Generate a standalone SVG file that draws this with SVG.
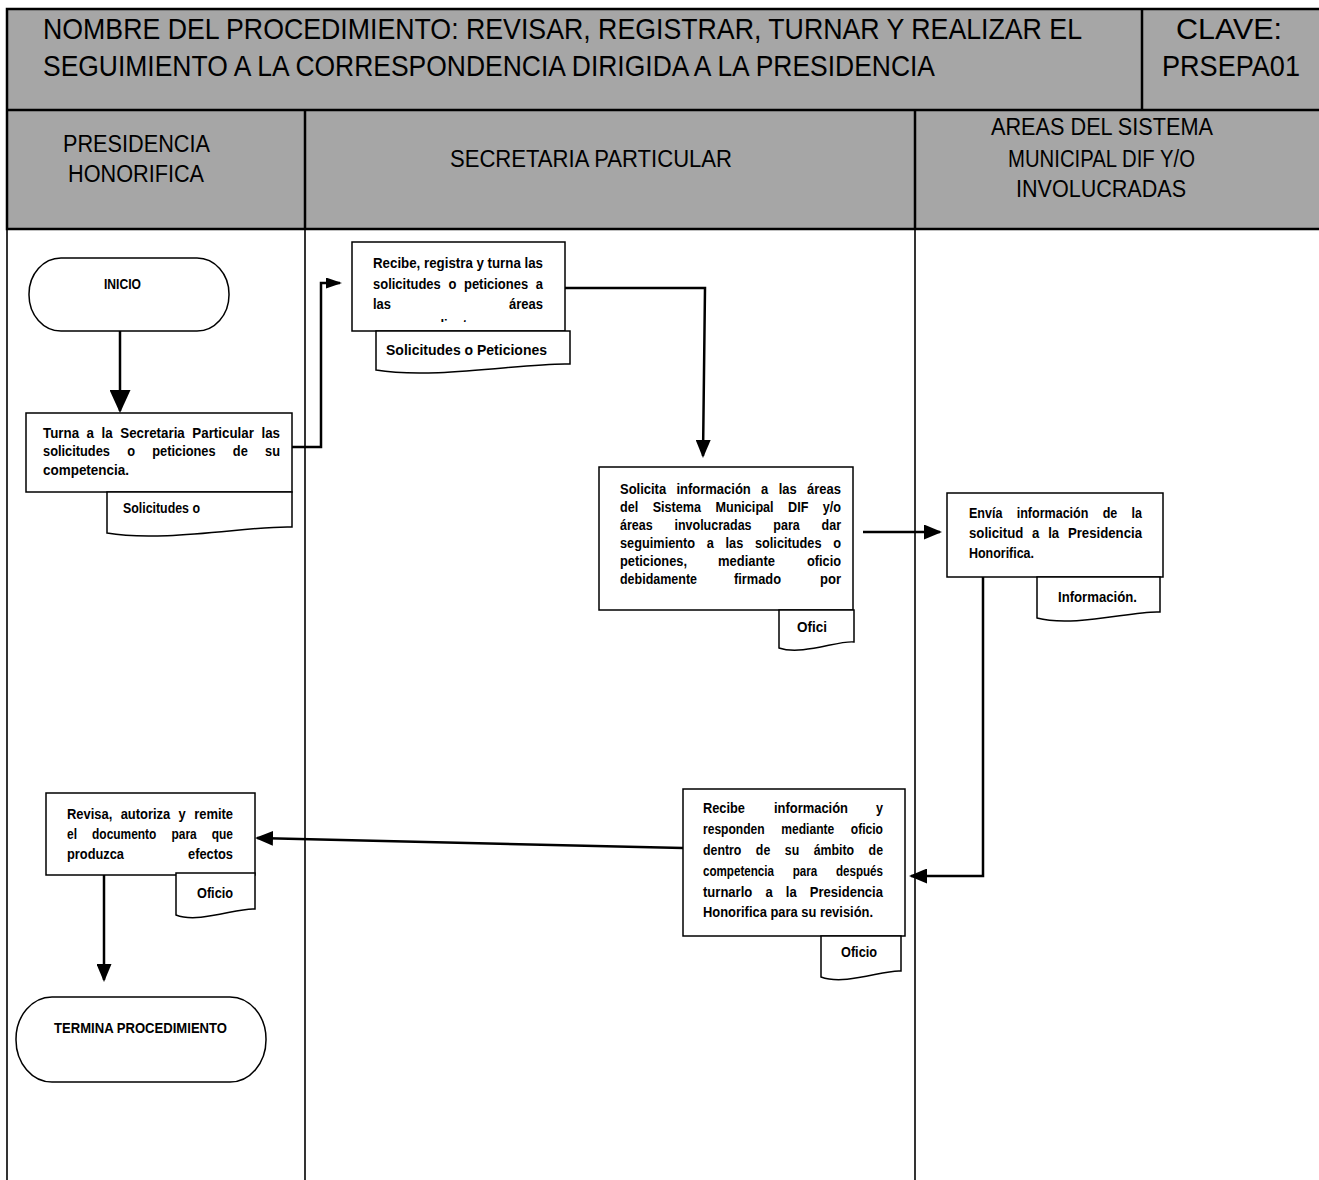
<svg xmlns="http://www.w3.org/2000/svg" width="1319" height="1180" viewBox="0 0 1319 1180">
  <style>
    .hdr { font-family: "Liberation Sans", Arial, sans-serif; fill: #000; }
    .t29 { font-size: 29px; }
    .t23 { font-size: 23px; }
    .b { font-family: "Liberation Sans", Arial, sans-serif; font-weight: bold; font-size: 15px; fill: #000; }
    .box { fill: #fff; stroke: #000; stroke-width: 1.5; }
    .band { fill: #a6a6a6; stroke: #000; stroke-width: 2.5; }
    .grid { stroke: #000; stroke-width: 2.5; fill: none; }
    .lane { stroke: #000; stroke-width: 1.6; fill: none; }
    .conn path { fill: none; stroke: #000; stroke-width: 2.5; }
  </style>
  <defs>
    <marker id="ah" markerUnits="userSpaceOnUse" markerWidth="18" markerHeight="15" viewBox="0 0 18 15" refX="16" refY="7.5" orient="auto">
      <path d="M0,0 L18,7.5 L0,15 Z" fill="#000"/>
    </marker>
    <marker id="ahL" markerUnits="userSpaceOnUse" markerWidth="23" markerHeight="21" viewBox="0 0 23 21" refX="21" refY="10.5" orient="auto">
      <path d="M0,0 L23,10.5 L0,21 Z" fill="#000"/>
    </marker>
    <marker id="ahS" markerUnits="userSpaceOnUse" markerWidth="16" markerHeight="11" viewBox="0 0 16 11" refX="14" refY="5.5" orient="auto">
      <path d="M0,0 L16,5.5 L0,11 Z" fill="#000"/>
    </marker>
    <clipPath id="clipB2">
      <rect x="352" y="242" width="213" height="80"/>
    </clipPath>
  </defs>

  <rect width="1319" height="1180" fill="#fff"/>

  <!-- header table -->
  <g id="header">
    <rect x="7" y="9" width="1325" height="220" class="band"/>
    <line x1="7" y1="110" x2="1330" y2="110" class="grid"/>
    <line x1="1142" y1="9" x2="1142" y2="110" class="grid" stroke-width="2"/>
    <line x1="305" y1="110" x2="305" y2="229" class="grid" stroke-width="2"/>
    <line x1="915" y1="110" x2="915" y2="229" class="grid" stroke-width="2"/>
    <text class="hdr t29" x="43" y="39" textLength="1039" lengthAdjust="spacingAndGlyphs">NOMBRE DEL PROCEDIMIENTO: REVISAR, REGISTRAR, TURNAR Y REALIZAR EL</text>
    <text class="hdr t29" x="43" y="76" textLength="892" lengthAdjust="spacingAndGlyphs">SEGUIMIENTO A LA CORRESPONDENCIA DIRIGIDA A LA PRESIDENCIA</text>
    <text class="hdr t29" x="1176" y="39" textLength="106" lengthAdjust="spacingAndGlyphs">CLAVE:</text>
    <text class="hdr t29" x="1162" y="76" textLength="138" lengthAdjust="spacingAndGlyphs">PRSEPA01</text>
    <text class="hdr t23" x="63" y="152" textLength="147" lengthAdjust="spacingAndGlyphs">PRESIDENCIA</text>
    <text class="hdr t23" x="68" y="182" textLength="136" lengthAdjust="spacingAndGlyphs">HONORIFICA</text>
    <text class="hdr t23" x="450" y="167" textLength="282" lengthAdjust="spacingAndGlyphs">SECRETARIA PARTICULAR</text>
    <text class="hdr t23" x="991" y="135" textLength="222" lengthAdjust="spacingAndGlyphs">AREAS DEL SISTEMA</text>
    <text class="hdr t23" x="1008" y="167" textLength="187" lengthAdjust="spacingAndGlyphs">MUNICIPAL DIF Y/O</text>
    <text class="hdr t23" x="1016" y="197" textLength="170" lengthAdjust="spacingAndGlyphs">INVOLUCRADAS</text>
  </g>

  <!-- swimlane body -->
  <g id="lanes">
    <line x1="7" y1="229" x2="7" y2="1180" class="lane"/>
    <line x1="305" y1="229" x2="305" y2="1180" class="lane"/>
    <line x1="915" y1="229" x2="915" y2="1180" class="lane"/>
  </g>

  <!-- connectors -->
  <g id="connectors" class="conn">
    <path d="M120,331 V411" marker-end="url(#ahL)"/>
    <path d="M292,447 H321 V283 H340" marker-end="url(#ahS)"/>
    <path d="M565,288 H705 L703,456" marker-end="url(#ah)"/>
    <path d="M863,532 H940" marker-end="url(#ah)"/>
    <path d="M983,577 V876 H911" marker-end="url(#ah)"/>
    <path d="M683,848 L257,838" marker-end="url(#ah)"/>
    <path d="M104,875 V980" marker-end="url(#ah)"/>
  </g>

  <!-- start -->
  <g id="inicio">
    <rect x="29" y="258" width="200" height="73" rx="32" ry="36" class="box"/>
    <text class="b" x="104" y="289" textLength="37" lengthAdjust="spacingAndGlyphs">INICIO</text>
  </g>

  <!-- step 1: Presidencia turns requests -->
  <g id="turna">
    <rect x="26" y="413" width="266" height="79" class="box"/>
    <text class="b" x="43" y="438" textLength="237" lengthAdjust="spacingAndGlyphs" word-spacing="4.3">Turna a la Secretaria Particular las</text>
    <text class="b" x="43" y="456" textLength="237" lengthAdjust="spacingAndGlyphs" word-spacing="16">solicitudes o peticiones de su</text>
    <text class="b" x="43" y="475" textLength="86" lengthAdjust="spacingAndGlyphs">competencia.</text>
  </g>
  <g id="doc-solicitudes-1">
    <path d="M107,492 H292 V527 C255,525 163,543 107,533 Z" class="box"/>
    <text class="b" x="123" y="513" textLength="77" lengthAdjust="spacingAndGlyphs">Solicitudes o</text>
  </g>

  <!-- step 2: Secretaria receives and registers -->
  <g id="recibe-registra">
    <rect x="352" y="242" width="213" height="89" class="box"/>
    <text class="b" x="373" y="268" textLength="170" lengthAdjust="spacingAndGlyphs">Recibe, registra y turna las</text>
    <text class="b" x="373" y="289" textLength="170" lengthAdjust="spacingAndGlyphs" word-spacing="4.7">solicitudes o peticiones a</text>
    <text class="b" x="373" y="309" textLength="18" lengthAdjust="spacingAndGlyphs">las</text>
    <text class="b" x="509" y="309" textLength="34" lengthAdjust="spacingAndGlyphs">áreas</text>
    <text class="b" x="373" y="330" textLength="112" lengthAdjust="spacingAndGlyphs" clip-path="url(#clipB2)">correspondientes.</text>
  </g>
  <g id="doc-solicitudes-2">
    <path d="M376,331 H570 V364 C530,362 434,380 376,370 Z" class="box"/>
    <text class="b" x="386" y="355" textLength="161" lengthAdjust="spacingAndGlyphs">Solicitudes o Peticiones</text>
  </g>

  <!-- step 3: request information from areas -->
  <g id="solicita">
    <rect x="599" y="467" width="254" height="143" class="box"/>
    <text class="b" x="620" y="494" textLength="221" lengthAdjust="spacingAndGlyphs" word-spacing="7.8">Solicita información a las áreas</text>
    <text class="b" x="620" y="512" textLength="221" lengthAdjust="spacingAndGlyphs" word-spacing="13">del Sistema Municipal DIF y/o</text>
    <text class="b" x="620" y="530" textLength="221" lengthAdjust="spacingAndGlyphs" word-spacing="22">áreas involucradas para dar</text>
    <text class="b" x="620" y="548" textLength="221" lengthAdjust="spacingAndGlyphs" word-spacing="9.5">seguimiento a las solicitudes o</text>
    <text class="b" x="620" y="566" textLength="67" lengthAdjust="spacingAndGlyphs">peticiones,</text>
    <text class="b" x="718" y="566" textLength="57" lengthAdjust="spacingAndGlyphs">mediante</text>
    <text class="b" x="807" y="566" textLength="34" lengthAdjust="spacingAndGlyphs">oficio</text>
    <text class="b" x="620" y="584" textLength="77" lengthAdjust="spacingAndGlyphs">debidamente</text>
    <text class="b" x="734" y="584" textLength="47" lengthAdjust="spacingAndGlyphs">firmado</text>
    <text class="b" x="820" y="584" textLength="21" lengthAdjust="spacingAndGlyphs">por</text>
  </g>
  <g id="doc-oficio-1">
    <path d="M779,610 H854 V642 C839,640 802,656 779,648 Z" class="box"/>
    <text class="b" x="797" y="632" textLength="30" lengthAdjust="spacingAndGlyphs">Ofici</text>
  </g>

  <!-- step 4: areas send information -->
  <g id="envia">
    <rect x="947" y="493" width="216" height="84" class="box"/>
    <text class="b" x="969" y="518" textLength="173" lengthAdjust="spacingAndGlyphs" word-spacing="12.9">Envía información de la</text>
    <text class="b" x="969" y="538" textLength="173" lengthAdjust="spacingAndGlyphs" word-spacing="5.8">solicitud a la Presidencia</text>
    <text class="b" x="969" y="558" textLength="65" lengthAdjust="spacingAndGlyphs">Honorifica.</text>
  </g>
  <g id="doc-informacion">
    <path d="M1037,577 H1160 V612 C1135,610 1074,628 1037,618 Z" class="box"/>
    <text class="b" x="1058" y="602" textLength="79" lengthAdjust="spacingAndGlyphs">Información.</text>
  </g>

  <!-- step 5: Secretaria answers by oficio -->
  <g id="recibe-informacion">
    <rect x="683" y="789" width="222" height="147" class="box"/>
    <text class="b" x="703" y="813" textLength="42" lengthAdjust="spacingAndGlyphs">Recibe</text>
    <text class="b" x="774" y="813" textLength="74" lengthAdjust="spacingAndGlyphs">información</text>
    <text class="b" x="876" y="813" textLength="7" lengthAdjust="spacingAndGlyphs">y</text>
    <text class="b" x="703" y="834" textLength="180" lengthAdjust="spacingAndGlyphs" word-spacing="16.4">responden mediante oficio</text>
    <text class="b" x="703" y="855" textLength="180" lengthAdjust="spacingAndGlyphs" word-spacing="13.5">dentro de su ámbito de</text>
    <text class="b" x="703" y="876" textLength="180" lengthAdjust="spacingAndGlyphs" word-spacing="20">competencia para después</text>
    <text class="b" x="703" y="897" textLength="180" lengthAdjust="spacingAndGlyphs" word-spacing="10.9">turnarlo a la Presidencia</text>
    <text class="b" x="703" y="917" textLength="170" lengthAdjust="spacingAndGlyphs">Honorifica para su revisión.</text>
  </g>
  <g id="doc-oficio-2">
    <path d="M821,936 H901 V971 C885,969 846,986 821,977 Z" class="box"/>
    <text class="b" x="841" y="957" textLength="36" lengthAdjust="spacingAndGlyphs">Oficio</text>
  </g>

  <!-- step 6: Presidencia reviews and authorizes -->
  <g id="revisa">
    <rect x="46" y="793" width="209" height="82" class="box"/>
    <text class="b" x="67" y="819" textLength="166" lengthAdjust="spacingAndGlyphs" word-spacing="5.5">Revisa, autoriza y remite</text>
    <text class="b" x="67" y="839" textLength="166" lengthAdjust="spacingAndGlyphs" word-spacing="14.9">el documento para que</text>
    <text class="b" x="67" y="859" textLength="57" lengthAdjust="spacingAndGlyphs">produzca</text>
    <text class="b" x="188" y="859" textLength="45" lengthAdjust="spacingAndGlyphs">efectos</text>
  </g>
  <g id="doc-oficio-3">
    <path d="M176,873 H255 V909 C239,907 199,924 176,915 Z" class="box"/>
    <text class="b" x="197" y="898" textLength="36" lengthAdjust="spacingAndGlyphs">Oficio</text>
  </g>

  <!-- end -->
  <g id="termina">
    <rect x="16" y="997" width="250" height="85" rx="36" ry="42" class="box"/>
    <text class="b" x="54" y="1033" textLength="173" lengthAdjust="spacingAndGlyphs">TERMINA PROCEDIMIENTO</text>
  </g>
</svg>
